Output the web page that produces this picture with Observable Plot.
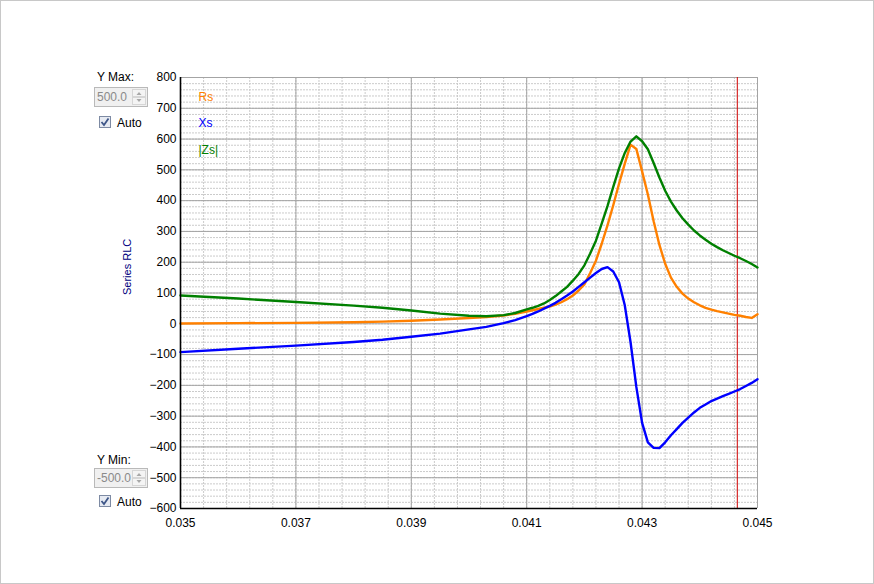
<!DOCTYPE html>
<html><head><meta charset="utf-8">
<script src="https://cdn.jsdelivr.net/npm/d3@7"></script>
<script src="https://cdn.jsdelivr.net/npm/@observablehq/plot@0.6"></script>
<style>
body{margin:0;background:#fff;font-family:"Liberation Sans",Arial,sans-serif;}
#wrap{position:relative;width:874px;height:584px;overflow:hidden;background:#fff;}
#chart{position:absolute;left:0;top:0;}
#border{position:absolute;left:0;top:0;width:872px;height:582px;border:1px solid #c8c8c8;pointer-events:none;}
.lbl{position:absolute;font-size:12px;color:#000;line-height:14px;white-space:nowrap;}
.spin{position:absolute;left:94px;width:54px;height:20px;border:1px solid #b9b9b9;background:#f0f0f0;box-sizing:border-box;}
.spin .v{position:absolute;left:2px;top:2px;font-size:12px;line-height:14px;color:#8a8a8a;}
.spin .arr{position:absolute;right:1px;top:1px;width:14px;height:16px;}
.cb{position:absolute;left:99px;width:12px;height:12px;}
</style></head>
<body>
<div id="wrap">
  <div id="chart"></div>
  <div class="lbl" style="left:97px;top:70px;">Y Max:</div>
  <div class="spin" style="top:87px;"><span class="v">500.0</span>
    <svg class="arr" width="14" height="16"><rect x="0.5" y="0.5" width="13" height="7" fill="#f4f4f4" stroke="#d6d6d6"/><rect x="0.5" y="8.5" width="13" height="7" fill="#f4f4f4" stroke="#d6d6d6"/><path d="M4.5 6 L7 3 L9.5 6Z" fill="#a8a8a8"/><path d="M4.5 10 L7 13 L9.5 10Z" fill="#a8a8a8"/></svg></div>
  <svg class="cb" style="top:116px;" width="12" height="12"><rect x="0.5" y="0.5" width="11" height="11" fill="#e6eaf2" stroke="#7d8aa3"/><path d="M2.5 6 L5 9 L9.5 2.5" fill="none" stroke="#3e5688" stroke-width="1.8"/></svg>
  <div class="lbl" style="left:117px;top:116px;">Auto</div>

  <div class="lbl" style="left:97px;top:453px;">Y Min:</div>
  <div class="spin" style="top:468px;"><span class="v">-500.0</span>
    <svg class="arr" width="14" height="16"><rect x="0.5" y="0.5" width="13" height="7" fill="#f4f4f4" stroke="#d6d6d6"/><rect x="0.5" y="8.5" width="13" height="7" fill="#f4f4f4" stroke="#d6d6d6"/><path d="M4.5 6 L7 3 L9.5 6Z" fill="#a8a8a8"/><path d="M4.5 10 L7 13 L9.5 10Z" fill="#a8a8a8"/></svg></div>
  <svg class="cb" style="top:495px;" width="12" height="12"><rect x="0.5" y="0.5" width="11" height="11" fill="#e6eaf2" stroke="#7d8aa3"/><path d="M2.5 6 L5 9 L9.5 2.5" fill="none" stroke="#3e5688" stroke-width="1.8"/></svg>
  <div class="lbl" style="left:117px;top:495px;">Auto</div>
  <div id="border"></div>
</div>
<script>
// ---- data ----
const freq = [0.035, 0.036, 0.037, 0.038, 0.0385, 0.039, 0.0395, 0.040, 0.0403, 0.0406, 0.0408,
  0.0410, 0.0411, 0.0412, 0.0413, 0.0414, 0.0415, 0.0416, 0.0417, 0.0418, 0.0419,
  0.0420, 0.0421, 0.0422, 0.0423, 0.0424, 0.0425, 0.0426, 0.0427, 0.0428, 0.0429,
  0.0430, 0.0431, 0.0432, 0.0433, 0.0434, 0.0435, 0.0436, 0.0437, 0.0438, 0.0439,
  0.0440, 0.0441, 0.0442, 0.0443, 0.0444, 0.0445, 0.0446, 0.0447, 0.0448, 0.0449, 0.0450];
const rsValues = [1, 2, 3, 5, 7, 10, 14, 19, 22, 27, 32,
  40, 44, 48, 52, 56, 62, 70, 80, 92, 108,
  128, 165, 205, 260, 320, 385, 455, 520, 582, 568,
  495, 420, 333, 256, 195, 150, 120, 98, 82, 70,
  60, 52, 46, 41, 37, 33, 29, 26, 22, 19, 31];
const xsValues = [-92, -81, -71, -59, -52, -42, -32, -18, -10, 2, 12,
  25, 32, 40, 49, 58, 68, 80, 92, 105, 120,
  135, 150, 165, 178, 184, 170, 135, 60, -60, -205,
  -322, -385, -403, -404, -385, -362, -342, -322, -305, -288,
  -273, -262, -251, -243, -235, -228, -220, -212, -202, -192, -180];
const zsValues = [92, 82, 71, 59, 52, 43, 33, 26, 24.5, 28, 35,
  47, 52, 58, 66, 77, 90, 105, 120, 140, 162,
  190, 228, 270, 325, 382, 445, 505, 555, 592, 609,
  593, 567, 522, 475, 432, 397, 368, 343, 322, 303,
  287, 273, 260, 249, 239, 230, 221, 213, 204, 194, 183];
const seriesNames = ["Rs", "Xs", "|Zs|"];
const seriesColors = ["#ff8000", "#0000ff", "#008000"];
const xTicks = [0.035, 0.037, 0.039, 0.041, 0.043, 0.045];
const yTicks = [-600, -500, -400, -300, -200, -100, 0, 100, 200, 300, 400, 500, 600, 700, 800];
const cursorX = [0.04465];
const yLabel = "Series RLC";

const xMinor = d3.range(0, 26).map(i => 0.035 + i * 0.0004);
const yMinor = d3.range(-600, 801, 20);
const rows = freq.map((f, i) => ({f, rs: rsValues[i], xs: xsValues[i], zs: zsValues[i]}));
const keys = ["rs", "xs", "zs"];

const chart = Plot.plot({
  width: 874, height: 584,
  marginLeft: 180, marginRight: 117, marginTop: 77, marginBottom: 76,
  style: {fontFamily: "'Liberation Sans', Arial, sans-serif", fontSize: "12px", background: "transparent", overflow: "visible", color: "#000"},
  x: {domain: [0.035, 0.045]},
  y: {domain: [-600, 800]},
  marks: [
    Plot.ruleX(xMinor, {stroke: "#cbcbcb", strokeDasharray: "2,1"}),
    Plot.ruleY(yMinor, {stroke: "#cbcbcb", strokeDasharray: "2,1"}),
    Plot.ruleX(xTicks, {stroke: "#a4a4a4"}),
    Plot.ruleY(yTicks, {stroke: "#a4a4a4"}),
    Plot.ruleX(cursorX, {stroke: "#d00000"}),
    ...keys.map((k, i) => Plot.line(rows, {x: "f", y: k, stroke: seriesColors[i], strokeWidth: 2.4})),
    Plot.ruleX([0.035], {stroke: "#000", strokeWidth: 1.6}),
    Plot.ruleY([-600], {stroke: "#000", strokeWidth: 1.6}),
    Plot.axisY(yTicks, {tickSize: 0, tickPadding: 4, fontSize: 12, label: null}),
    Plot.axisX(xTicks, {tickSize: 0, tickPadding: 10, fontSize: 12, label: null, tickFormat: d3.format(".3f")}),
    ...seriesNames.map((n, i) => Plot.text([n], {frameAnchor: "top-left", dx: 18, dy: 14.5 + i * 26.5, fill: seriesColors[i], textAnchor: "start", fontSize: 12})),
    Plot.text([yLabel], {frameAnchor: "left", dx: -53, dy: 2, rotate: -90, fill: "#000080", fontSize: 11})
  ]
});
document.getElementById("chart").appendChild(chart);
</script>
</body></html>
